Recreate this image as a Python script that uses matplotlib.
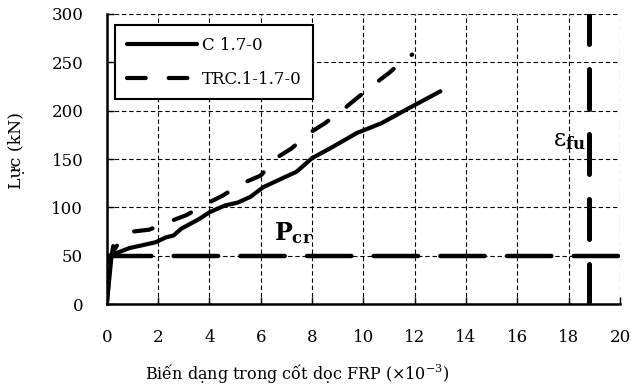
import numpy as np
import matplotlib
matplotlib.use('Agg')
import matplotlib.pyplot as plt

plt.rcParams['font.family'] = 'DejaVu Serif'
plt.rcParams['mathtext.fontset'] = 'dejavuserif'

# C 1.7-0 (solid)
c_x = [0, 0.18, 0.25, 0.3, 0.88, 1.4, 1.9, 2.3, 2.6, 2.9, 3.6, 4.0, 4.6, 5.1, 5.6, 6.1,
       7.4, 8.0, 8.7, 9.75, 10.7, 11.8, 13.0]
c_y = [0, 49, 60, 52, 58, 61, 64, 69, 71, 78, 88, 95, 102, 105, 111, 121,
       137, 151, 161, 177, 187, 203, 220]

# TRC.1-1.7-0 (dashed)
t_x = [0, 0.15, 0.5, 1.0, 1.65, 2.5, 3.1, 3.9, 4.5, 5.3, 6.0, 6.6, 7.2, 7.9, 8.5,
       9.2, 9.75, 10.4, 11.0, 11.6, 11.9]
t_y = [0, 50, 65, 75, 77, 86, 92, 104, 112, 125, 133, 151, 161, 177, 187,
       201, 213, 227, 239, 253, 258]

p_cr = 50
eps_fu = 18.8

fig = plt.figure(figsize=(6.32, 3.87), dpi=100)
ax = fig.add_axes([0.169, 0.214, 0.812, 0.75])

ax.plot(c_x, c_y, color='black', lw=3.0, solid_capstyle='round', solid_joinstyle='round',
        label='C 1.7-0')
ax.plot(t_x, t_y, color='black', lw=3.0, dashes=(4.5, 5.5), dash_capstyle='round',
        label='TRC.1-1.7-0')
ax.axhline(p_cr, color='black', lw=3.2, dashes=(10, 5), dash_capstyle='round')
ax.axvline(eps_fu, color='black', lw=3.6, dashes=(8, 5), dash_capstyle='round')

ax.text(6.5, 66, r'$\mathbf{P_{cr}}$', fontsize=17, color='black')
ax.text(17.4, 163, r'$\mathrm{\epsilon}_{\mathbf{fu}}$', fontsize=17, color='black')

ax.set_xlim(0, 20)
ax.set_ylim(0, 300)
ax.set_xticks(np.arange(0, 21, 2))
ax.set_yticks(np.arange(0, 301, 50))
ax.grid(True, color='black', linestyle=(0, (4, 2.5)), lw=0.8)
ax.tick_params(direction='in', length=5, width=1, labelsize=12)
ax.tick_params(axis='x', pad=18)
ax.tick_params(axis='y', pad=17)
for s in ['top', 'right']:
    ax.spines[s].set_visible(False)
for s in ['left', 'bottom']:
    ax.spines[s].set_linewidth(1.8)

ax.set_xlabel('Biến dạng trong cốt dọc FRP ($\\times$10$^{-3}$)', fontsize=11.5)
ax.xaxis.set_label_coords(0.37, -0.2)
ax.set_ylabel('Lực (kN)', fontsize=12.5)
ax.yaxis.set_label_coords(-0.16, 0.53)

leg = ax.legend(loc='upper left', bbox_to_anchor=(0.0, 0.99), fontsize=12,
                handlelength=4.2, frameon=True, fancybox=False, borderpad=0.7,
                labelspacing=1.0, handletextpad=0.3)
leg.get_frame().set_edgecolor('black')
leg.get_frame().set_linewidth(1.5)
leg.get_frame().set_alpha(1)

fig.savefig('out.png', dpi=100)
